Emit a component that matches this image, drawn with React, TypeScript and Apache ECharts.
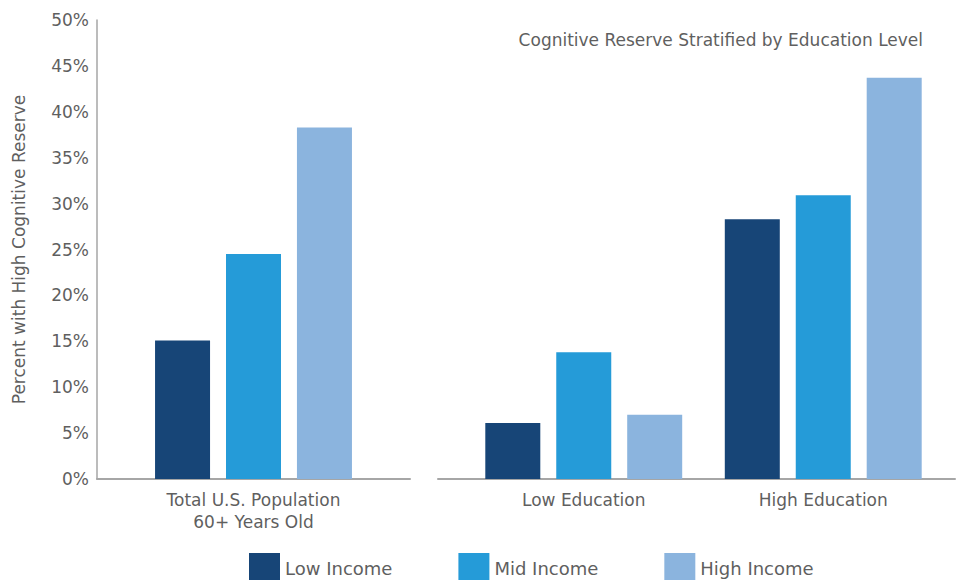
import React, { useEffect, useRef } from "react";
import * as echarts from "echarts";

const leftCategories = ["Total U.S. Population\n60+ Years Old"];
const rightCategories = ["Low Education", "High Education"];
const seriesNames = ["Low Income", "Mid Income", "High Income"];
const colors = ["#174577", "#259bd8", "#8bb4de"];
const leftLow = [15.1];
const leftMid = [24.5];
const leftHigh = [38.3];
const rightLow = [6.1, 28.3];
const rightMid = [13.8, 30.9];
const rightHigh = [7.0, 43.7];
const yTicks = [0, 50, 5];

const FONT = "DejaVu Sans";
const TEXT = "#5f5f5f";
const AXIS = "#a6a6a6";

export default function App() {
  const ref = useRef<HTMLDivElement>(null);
  useEffect(() => {
    document.body.style.margin = "0";
    if (!ref.current) return;
    const chart = echarts.init(ref.current, undefined, { renderer: "svg" });
    const leftData = [leftLow, leftMid, leftHigh];
    const rightData = [rightLow, rightMid, rightHigh];
    const mkBar = (name: string, data: number[], idx: number, color: string) => ({
      type: "bar",
      name,
      data,
      xAxisIndex: idx,
      yAxisIndex: idx,
      barWidth: 55,
      barGap: "29%",
      itemStyle: { color },
    });
    const series: any[] = [];
    seriesNames.forEach((n, i) => series.push(mkBar(n, leftData[i], 0, colors[i])));
    seriesNames.forEach((n, i) => series.push(mkBar(n, rightData[i], 1, colors[i])));
    series.push({ type: "bar", data: [], xAxisIndex: 2, yAxisIndex: 2, silent: true });

    const yBase = { type: "value", min: yTicks[0], max: yTicks[1], interval: yTicks[2] };
    const label = { fontFamily: FONT, fontSize: 17, color: TEXT };
    chart.setOption({
      animation: false,
      textStyle: { fontFamily: FONT },
      title: {
        text: "Cognitive Reserve Stratified by Education Level",
        right: 38,
        top: 31,
        padding: 0,
        textStyle: { ...label, fontWeight: "normal" },
      },
      legend: {
        data: seriesNames,
        left: 249,
        top: 553,
        padding: 0,
        itemWidth: 31,
        itemHeight: 31,
        itemGap: 66,
        icon: "rect",
        textStyle: { ...label, fontSize: 18 },
      },
      grid: [
        { left: 97, width: 313, top: 20, height: 459 },
        { left: 464, width: 479, top: 20, height: 459 },
        { left: 438, width: 517, top: 20, height: 459 },
      ],
      xAxis: [
        {
          type: "category",
          gridIndex: 0,
          data: leftCategories,
          axisTick: { show: false },
          axisLine: { lineStyle: { color: AXIS, width: 2 } },
          axisLabel: { ...label, lineHeight: 22, margin: 10 },
        },
        {
          type: "category",
          gridIndex: 1,
          data: rightCategories,
          axisTick: { show: false },
          axisLine: { show: false },
          axisLabel: { ...label, lineHeight: 22, margin: 10 },
        },
        {
          type: "category",
          gridIndex: 2,
          data: [],
          axisTick: { show: false },
          axisLabel: { show: false },
          axisLine: { lineStyle: { color: AXIS, width: 2 } },
        },
      ],
      yAxis: [
        {
          ...yBase,
          gridIndex: 0,
          name: "Percent with High Cognitive Reserve",
          nameLocation: "middle",
          nameGap: 70,
          nameTextStyle: label,
          axisLine: { show: true, lineStyle: { color: AXIS, width: 1.5 } },
          axisTick: { show: false },
          splitLine: { show: false },
          axisLabel: { ...label, margin: 8, formatter: "{value}%" },
        },
        { ...yBase, gridIndex: 1, show: false, splitLine: { show: false } },
        { ...yBase, gridIndex: 2, show: false, splitLine: { show: false } },
      ],
      series,
    });
    return () => chart.dispose();
  }, []);
  return <div ref={ref} style={{ width: 961, height: 580 }} />;
}
